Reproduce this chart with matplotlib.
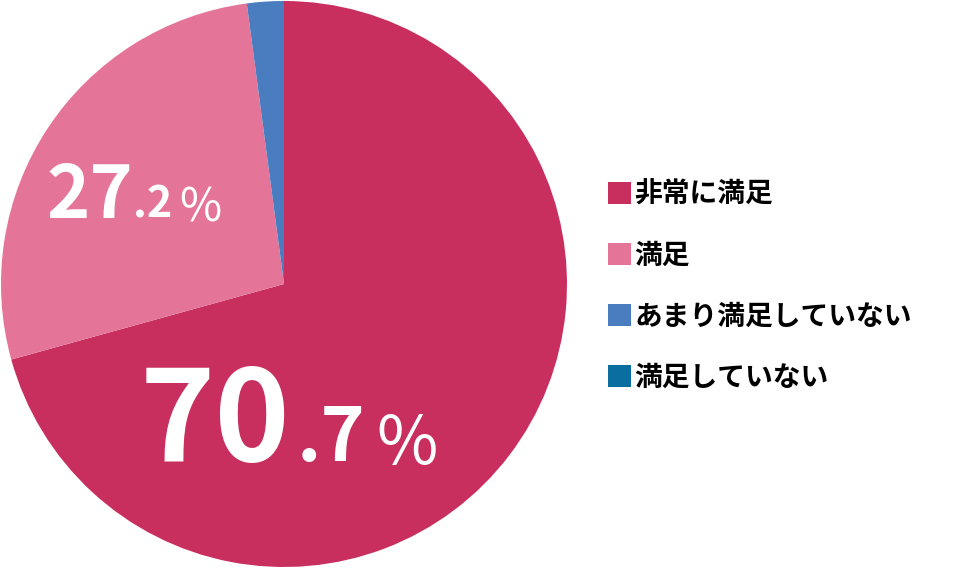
import matplotlib
matplotlib.use("Agg")
import matplotlib.pyplot as plt

categories = ["非常に満足", "満足", "あまり満足していない", "満足していない"]
values = [70.7, 27.2, 2.1, 0.0]
colors = ["#C82F5E", "#E47599", "#4A7DC0", "#0B6EA1"]

plt.rcParams['font.family'] = ['Noto Sans CJK JP', 'DejaVu Sans']

W, H = 958, 568
fig = plt.figure(figsize=(W / 100, H / 100), dpi=100)
ax = fig.add_axes([1 / W, 1 / H, 566 / W, 566 / H])
wedges, _ = ax.pie(values, colors=colors, startangle=90, counterclock=False,
                   radius=1.0, wedgeprops=dict(linewidth=0))
ax.set_xlim(-1, 1)
ax.set_ylim(-1, 1)
ax.set_aspect('equal')
ax.axis('off')


def ptext(x, y, s, size, weight='bold', **kw):
    fig.text(x / W, 1 - y / H, s, fontsize=size, color='white', weight=weight,
             ha='left', va='baseline', **kw)


# 70.7%
ptext(140, 461, "70", 92)
ptext(297, 461, ".7", 54)
ptext(376, 464, "%", 48, weight='normal')
# 27.2%
ptext(46, 218, "27", 53)
ptext(133, 218, ".2", 31)
ptext(179, 221, "%", 33, weight='normal')

fig.legend(wedges, categories, loc='upper left',
           bbox_to_anchor=(608 / W, 1 - 181 / H), frameon=False,
           borderpad=0, borderaxespad=0,
           handlelength=0.83, handleheight=0.83,
           handletextpad=0.12, labelspacing=1.18,
           prop=dict(weight='bold', size=20))

fig.savefig("out.png", dpi=100)
